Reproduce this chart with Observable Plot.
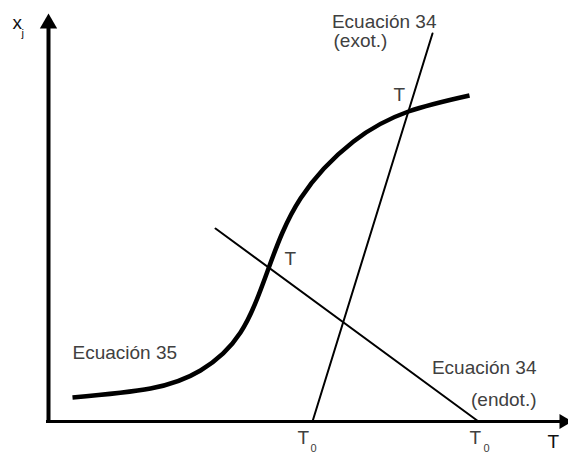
<!DOCTYPE html>
<html>
<head>
<meta charset="utf-8">
<script src="https://cdn.jsdelivr.net/npm/d3@7"></script>
<script src="https://cdn.jsdelivr.net/npm/@observablehq/plot@0.6"></script>
<style>
  html, body { margin: 0; padding: 0; background: #fff; }
  #chart svg { display: block; }
</style>
</head>
<body>
<div id="chart"></div>
<script>
// Ecuación 35: equilibrium conversion curve x_j(T)
const curveT = [2.4, 10.2, 15.2, 19.2, 22.0, 25.2, 30.5, 36.0, 42.1];
const curveX = [2.4, 3.3, 5.1, 8.9, 15.3, 22.3, 28.0, 31.0, 32.6];

// Ecuación 34: energy balance lines, exothermic and endothermic
const exotT = [26.4, 38.4];
const exotX = [0, 38.8];
const endotT = [16.7, 43.0];
const endotX = [19.3, 0];

// Annotation labels (anchor T, anchor x_j, text anchor)
const labelText   = ["Ecuación 34", "(exot.)", "T", "T", "Ecuación 35", "Ecuación 34", "(endot.)", "T", "T"];
const labelT      = [38.8, 28.5, 34.5, 23.6, 2.4, 48.8, 48.8, 24.9, 42.1];
const labelX      = [39.4, 37.5, 32.1, 15.7, 6.3, 4.8, 1.6, -2.2, -2.2];
const labelAnchor = ["end", "start", "start", "start", "start", "end", "end", "start", "start"];

// Subscripts for the T0 labels
const subText = ["0", "0"];
const subT = [26.2, 43.5];
const subX = [-3.0, -3.0];

// Axis titles
const axisTitles = ["x", "T"];
const axisTitleT = [-3.6, 49.9];
const axisTitleX = [39.3, -2.6];
const axisSub = ["j"];
const axisSubT = [-2.7];
const axisSubX = [38.5];

const zip = (a, b) => a.map((v, i) => ({T: v, x: b[i]}));
const curve = zip(curveT, curveX);
const exot = zip(exotT, exotX);
const endot = zip(endotT, endotX);
const labels = labelText.map((t, i) => ({text: t, T: labelT[i], x: labelX[i], anchor: labelAnchor[i]}));
const subs = subText.map((t, i) => ({text: t, T: subT[i], x: subX[i]}));

const font = "Liberation Sans, Helvetica, Arial, sans-serif";
const grey = "#404040";

const chart = Plot.plot({
  width: 568,
  height: 452,
  margin: 0,
  x: {domain: [-4.8, 52.0], axis: null},
  y: {domain: [-3.1, 42.1], axis: null},
  marks: [
    // axes with arrowheads
    Plot.ruleX([0], {y1: -0.15, y2: 39.4, stroke: "black", strokeWidth: 4}),
    Plot.ruleY([0], {x1: -0.2, x2: 51.2, stroke: "black", strokeWidth: 3}),
    Plot.dot([{T: 0, x: 39.8}], {x: "T", y: "x", symbol: "triangle", r: 6.43, fill: "black", stroke: null}),
    Plot.dot([{T: 51.53, x: 0}], {x: "T", y: "x", symbol: "triangle", r: 5.57, rotate: 90, fill: "black", stroke: null}),

    // energy balance lines
    Plot.line(exot, {x: "T", y: "x", stroke: "black", strokeWidth: 2}),
    Plot.line(endot, {x: "T", y: "x", stroke: "black", strokeWidth: 2}),

    // equilibrium curve
    Plot.line(curve, {x: "T", y: "x", curve: "natural", stroke: "black", strokeWidth: 4.5, strokeLinecap: "butt"}),

    // labels
    Plot.text(labels.filter(d => d.anchor === "start"), {x: "T", y: "x", text: "text", textAnchor: "start", lineAnchor: "bottom", fontSize: 19, fontFamily: font, fill: grey}),
    Plot.text(labels.filter(d => d.anchor === "end"), {x: "T", y: "x", text: "text", textAnchor: "end", lineAnchor: "bottom", fontSize: 19, fontFamily: font, fill: grey}),
    Plot.text(subs, {x: "T", y: "x", text: "text", textAnchor: "start", lineAnchor: "bottom", fontSize: 11, fontFamily: font, fill: grey}),

    // axis titles
    Plot.text(zip(axisTitleT, axisTitleX).map((d, i) => ({...d, text: axisTitles[i]})), {x: "T", y: "x", text: "text", textAnchor: "start", lineAnchor: "bottom", fontSize: 19, fontFamily: font, fill: "#111", fontWeight: (d) => d.text === "T" ? "bold" : "normal"}),
    Plot.text(zip(axisSubT, axisSubX).map((d, i) => ({...d, text: axisSub[i]})), {x: "T", y: "x", text: "text", textAnchor: "start", lineAnchor: "bottom", fontSize: 11, fontFamily: font, fill: "#111"})
  ]
});

document.getElementById("chart").appendChild(chart);
</script>
</body>
</html>
